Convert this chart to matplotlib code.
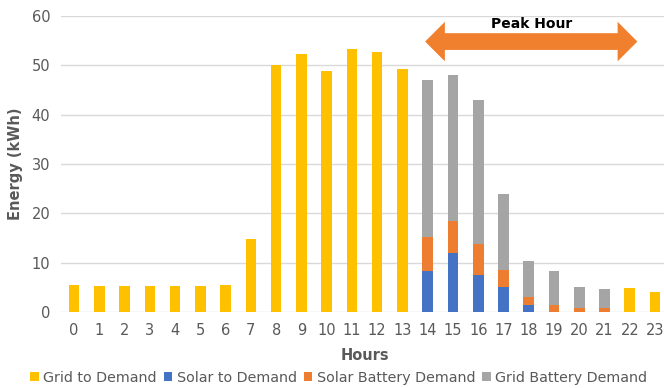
import matplotlib.pyplot as plt
from matplotlib.patches import FancyArrow
import numpy as np

hours = list(range(24))
hour_labels = [str(h) for h in hours]

# kWh per hour, stacked in this order
grid_to_demand = [5.5, 5.3, 5.2, 5.3, 5.2, 5.2, 5.5, 14.8, 50.0, 52.2, 48.8, 53.3,
                  52.6, 49.3, 0, 0, 0, 0, 0, 0, 0, 0, 4.8, 4.1]
solar_to_demand = [0] * 14 + [8.2, 11.9, 7.4, 5.0, 1.35, 0, 0, 0, 0, 0]
solar_battery = [0] * 14 + [6.9, 6.6, 6.4, 3.5, 1.65, 1.4, 0.9, 0.9, 0, 0]
grid_battery = [0] * 14 + [32.0, 29.6, 29.2, 15.4, 7.4, 6.85, 4.1, 3.8, 0, 0]

peak_start, peak_end = 13.9, 22.3

colors = ["#FFC000", "#4472C4", "#ED7D31", "#A5A5A5"]
names = ["Grid to Demand", "Solar to Demand", "Solar Battery Demand", "Grid Battery Demand"]
txt = "#595959"

fig = plt.figure(figsize=(6.64, 3.88), dpi=100)
ax = fig.add_axes([0.0925, 0.196, 0.913, 0.763])

x = np.array(hours)
w = 0.42
bottom = np.zeros(24)
for vals, c, n in zip([grid_to_demand, solar_to_demand, solar_battery, grid_battery], colors, names):
    vals = np.array(vals, dtype=float)
    ax.bar(x, vals, w, bottom=bottom, color=c, label=n, zorder=3)
    bottom += vals

ax.set_xlim(-0.5, 23.5)
ax.set_ylim(0, 60)
ax.set_yticks(range(0, 61, 10))
ax.set_xticks(x)
ax.set_xticklabels(hour_labels)
ax.tick_params(length=0, labelsize=10.5, labelcolor=txt, pad=8)
ax.yaxis.grid(True, color="#D9D9D9", lw=1, zorder=0)
for s in ax.spines.values():
    s.set_visible(False)

ax.set_xlabel("Hours", fontsize=10.5, fontweight="bold", color=txt, labelpad=7)
ax.set_ylabel("Energy (kWh)", fontsize=10.5, fontweight="bold", color=txt, labelpad=6)

# peak hour marker: double-headed block arrow (two overlapping single-headed ones)
head_len = 0.78
mid = (peak_start + peak_end) / 2
for start, end in ((peak_end - head_len, peak_start), (peak_start + head_len, peak_end)):
    ax.add_patch(FancyArrow(start, 54.8, end - start, 0, width=3.3, head_width=8.0,
                            head_length=head_len, length_includes_head=True,
                            color="#F07F2E", lw=0, zorder=4))
ax.text(mid, 58.3, "Peak Hour", ha="center", va="center",
        fontsize=10, fontweight="bold", color="#000000")

fig.legend(loc="lower center", bbox_to_anchor=(0.51, -0.025), ncol=4, frameon=False,
           fontsize=10.3, handlelength=0.6, handleheight=0.6, handletextpad=0.3,
           columnspacing=0.5, labelcolor=txt)

fig.savefig("out.png", dpi=100)
